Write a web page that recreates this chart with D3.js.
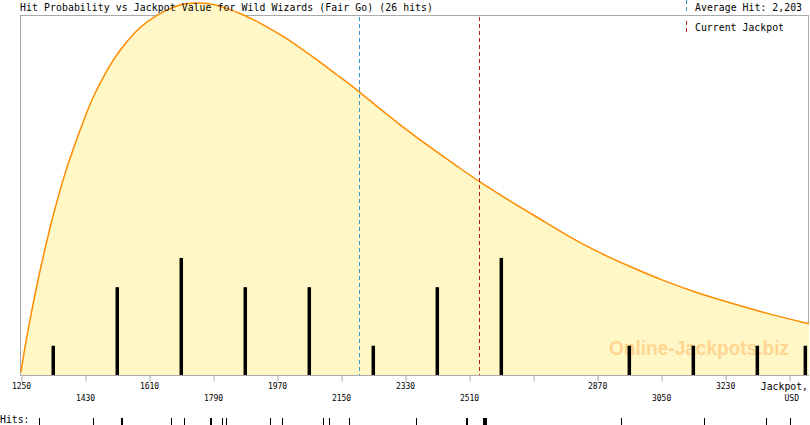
<!DOCTYPE html>
<html><head><meta charset="utf-8">
<script src="https://cdn.jsdelivr.net/npm/d3@7"></script>
<style>
html,body{margin:0;padding:0;background:#fff;}
svg{display:block;}
text{font-family:"DejaVu Sans Mono",monospace;}
</style></head>
<body><svg id="c" width="810" height="425"></svg>
<script>
// ---- data ----
const title = "Hit Probability vs Jackpot Value for Wild Wizards (Fair Go) (26 hits)";
const averageHit = 2203;
const currentJackpot = 2541;
// density curve (expected hits per 180 USD bin)
const curveJackpot = [1250,1261,1275,1289,1303,1318,1332,1346,1360,1374,1388,1402,1416,1430,1444,1461,1472,1500,1528,1571,1604,1641,1678,1716,1753,1791,1829,1866,1903,1950,1997,2044,2091,2138,2185,2297,2391,2485,2539,2635,2710,2775,2869,2963,3056,3150,3244,3338,3466];
const curveValue   = [0.10,0.96,1.88,2.73,3.55,4.34,5.06,5.71,6.32,6.90,7.41,7.89,8.37,8.81,9.26,9.70,9.96,10.59,11.10,11.73,12.07,12.36,12.58,12.71,12.72,12.68,12.53,12.36,12.15,11.84,11.50,11.10,10.70,10.25,9.85,8.71,7.86,7.06,6.60,5.87,5.33,4.84,4.21,3.70,3.22,2.81,2.47,2.13,1.75];
// histogram bins
const binCenters = [1340,1520,1700,1880,2060,2240,2420,2600,2960,3140,3320,3455];
const binCounts  = [1,3,4,3,3,1,3,4,1,1,1,1];
// individual hits
const hits = [1301,1453,1532,1535,1673,1709,1782,1785,1814,1826,1950,1983,2100,2116,2172,2362,2501,2504,2550,2553,2556,2559,2936,3172,3344,3413];
// axis ticks
const tickValues = [1250,1430,1610,1790,1970,2150,2330,2510,2690,2870,3050,3230,3410];
const tickLabels = ["1250","1430","1610","1790","1970","2150","2330","2510","","2870","3050","3230",""];
const tickRow    = [0,1,0,1,0,1,0,1,0,0,1,0,1];

const svg = d3.select("#c");
const L = 20.5, R = 808.5, T = 15.5, B = 375.5;
const x = d3.scaleLinear().domain([1250, 3466]).range([21, 809]);
const y = d3.scaleLinear().domain([0, 12.3]).range([375, 15]);

// frame
svg.append("rect").attr("x", L).attr("y", T).attr("width", R - L).attr("height", B - T)
  .attr("fill", "none").attr("stroke", "#aaaaaa").attr("stroke-width", 1);

// area + curve
const pts = curveJackpot.map((j, i) => [j, curveValue[i]]);
const cv = d3.curveBasis;
svg.append("path").datum(pts)
  .attr("d", d3.area().x(d => x(d[0])).y0(y(0)).y1(d => y(d[1])).curve(cv))
  .attr("fill", "#fff7c6");
svg.append("path").datum(pts)
  .attr("d", d3.line().x(d => x(d[0])).y(d => y(d[1])).curve(cv))
  .attr("fill", "none").attr("stroke", "#ff8c00").attr("stroke-width", 1.5);

// watermark
svg.append("text").attr("x", 609).attr("y", 355)
  .attr("textLength", 180).attr("lengthAdjust", "spacingAndGlyphs")
  .style("font-family", "'Liberation Sans', Arial, sans-serif").style("font-weight", "bold")
  .style("font-size", "20px").attr("fill", "#ffd592").text("Online-Jackpots.biz");

// bars
svg.append("g").selectAll("rect").data(binCenters).join("rect")
  .attr("x", d => Math.min(x(d), 807) - 1.5).attr("width", 3.5)
  .attr("y", (d, i) => y(binCounts[i])).attr("height", (d, i) => y(0) - y(binCounts[i]))
  .attr("fill", "#000");

// average & current jackpot lines
svg.append("line").attr("x1", Math.round(x(averageHit)) - 0.5).attr("x2", Math.round(x(averageHit)) - 0.5)
  .attr("y1", 17).attr("y2", 375).attr("stroke", "#3d95c8").attr("stroke-dasharray", "4,3");
svg.append("line").attr("x1", Math.round(x(currentJackpot)) - 0.5).attr("x2", Math.round(x(currentJackpot)) - 0.5)
  .attr("y1", 17).attr("y2", 375).attr("stroke", "#b81c1c").attr("stroke-dasharray", "4,3");

// x axis
const ax = svg.append("g").attr("transform", `translate(0,${B})`)
  .call(d3.axisBottom(x).tickValues(tickValues).tickSize(6).tickSizeOuter(0)
    .tickFormat((d, i) => tickLabels[i]));
ax.select(".domain").remove();
ax.selectAll(".tick line").attr("stroke", "#aaaaaa").attr("transform", "translate(0.5,0)");
ax.selectAll(".tick text").style("font-family", "'DejaVu Sans Mono',monospace").style("font-size", "8px")
  .attr("fill", "#000").attr("dy", null)
  .attr("y", (d, i) => (tickRow[i] === 0 ? 13.5 : 25.5));

svg.append("text").attr("x", 808).attr("y", 390).attr("text-anchor", "end")
  .style("font-size", "9.8px").text("Jackpot,");
svg.append("text").attr("x", 799).attr("y", 401).attr("text-anchor", "end")
  .style("font-size", "8px").text("USD");

// title & legend
svg.append("text").attr("x", 20).attr("y", 11).style("font-size", "9.8px")
  .attr("textLength", 413).attr("lengthAdjust", "spacing").text(title);
svg.append("line").attr("x1", 686.5).attr("x2", 686.5).attr("y1", 0).attr("y2", 12)
  .attr("stroke", "#3d95c8").attr("stroke-dasharray", "4,3");
svg.append("text").attr("x", 695).attr("y", 11).style("font-size", "9.8px")
  .attr("textLength", 107).attr("lengthAdjust", "spacing")
  .text("Average Hit: " + d3.format(",")(averageHit));
svg.append("line").attr("x1", 686.5).attr("x2", 686.5).attr("y1", 21).attr("y2", 33)
  .attr("stroke", "#b81c1c").attr("stroke-dasharray", "4,3");
svg.append("text").attr("x", 695).attr("y", 31).style("font-size", "9.8px")
  .attr("textLength", 89).attr("lengthAdjust", "spacing").text("Current Jackpot");

// hits strip
svg.append("text").attr("x", 0).attr("y", 423).style("font-size", "9.8px").text("Hits:");
svg.append("g").selectAll("line").data(hits).join("line")
  .attr("x1", d => Math.round(x(d)) + 0.5).attr("x2", d => Math.round(x(d)) + 0.5)
  .attr("y1", 418).attr("y2", 425).attr("stroke", "#000").attr("stroke-width", 1);
</script></body></html>
